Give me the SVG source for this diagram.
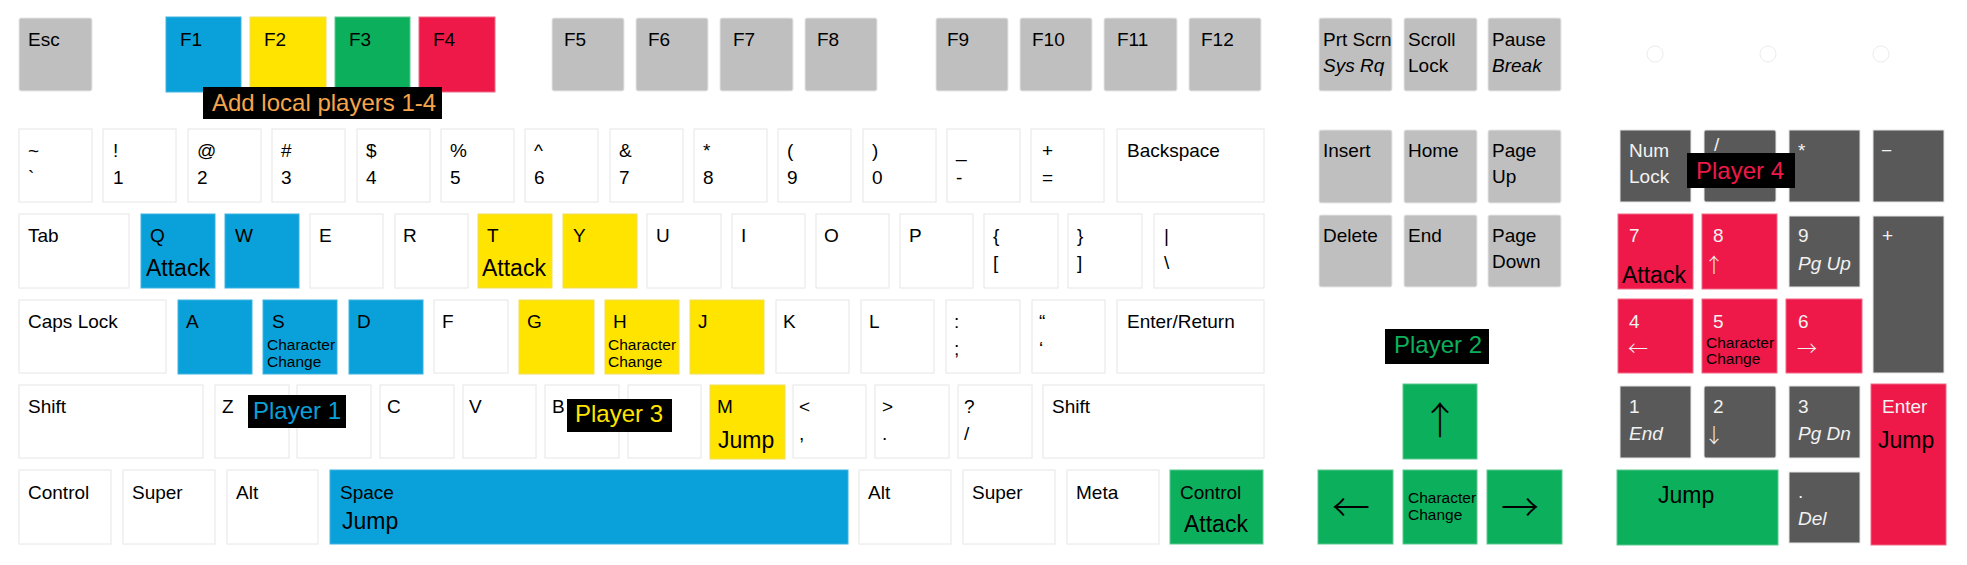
<svg xmlns="http://www.w3.org/2000/svg" width="1967" height="565" viewBox="0 0 1967 565">
<style>
rect.k{stroke:#e6e6e6;stroke-width:1}
.w{fill:#ffffff}
.g{fill:#bfbfbf}
.d{fill:#595959}
.b{fill:#0aa0d9;stroke:#3fb3e0!important}
.y{fill:#ffe400;stroke:#f0de5a!important}
.gr{fill:#0cb05c;stroke:#5cc78f!important}
.r{fill:#ee1948;stroke:#f06a86!important}
text{font-family:"Liberation Sans",Arial,sans-serif;font-size:19px;fill:#000}
text.lt{fill:#f2f2f2}
text.big{font-size:23px}
text.sm{font-size:15.5px}
text.it{font-style:italic}
text.arr{font-family:"Noto Sans CJK JP","Noto Sans CJK SC",sans-serif;font-size:38px;font-weight:300}
text.sarr{font-family:"Noto Sans CJK JP","Noto Sans CJK SC",sans-serif;font-size:20px;font-weight:300}
text.lbl{font-size:24px}
rect.tag{fill:#000}
circle.led{fill:none;stroke:#ececec;stroke-width:1}
</style>
<rect x="0" y="0" width="1967" height="565" fill="#ffffff"/>
<g id="connectors"/>

<!-- Function row -->
<g id="key-esc"><rect class="k g" x="19" y="18" width="73" height="73" rx="2"/><text x="28" y="46">Esc</text></g>
<g id="key-f1"><rect class="k b" x="166" y="17" width="75" height="75"/><text x="180" y="46">F1</text></g>
<g id="key-f2"><rect class="k y" x="250" y="17" width="76" height="75"/><text x="264" y="46">F2</text></g>
<g id="key-f3"><rect class="k gr" x="335" y="17" width="75" height="75"/><text x="349" y="46">F3</text></g>
<g id="key-f4"><rect class="k r" x="419" y="17" width="76" height="75"/><text x="433" y="46">F4</text></g>
<g id="key-f5"><rect class="k g" x="552" y="18" width="72" height="73" rx="2"/><text x="564" y="46">F5</text></g>
<g id="key-f6"><rect class="k g" x="636" y="18" width="72" height="73" rx="2"/><text x="648" y="46">F6</text></g>
<g id="key-f7"><rect class="k g" x="720" y="18" width="73" height="73" rx="2"/><text x="733" y="46">F7</text></g>
<g id="key-f8"><rect class="k g" x="805" y="18" width="72" height="73" rx="2"/><text x="817" y="46">F8</text></g>
<g id="key-f9"><rect class="k g" x="936" y="18" width="72" height="73" rx="2"/><text x="947" y="46">F9</text></g>
<g id="key-f10"><rect class="k g" x="1020" y="18" width="72" height="73" rx="2"/><text x="1032" y="46">F10</text></g>
<g id="key-f11"><rect class="k g" x="1104" y="18" width="73" height="73" rx="2"/><text x="1117" y="46">F11</text></g>
<g id="key-f12"><rect class="k g" x="1189" y="18" width="72" height="73" rx="2"/><text x="1201" y="46">F12</text></g>
<g id="key-prtscrn"><rect class="k g" x="1319" y="18" width="73" height="73" rx="2"/><text x="1323" y="46">Prt Scrn</text><text class="it" x="1323" y="72">Sys Rq</text></g>
<g id="key-scrolllock"><rect class="k g" x="1404" y="18" width="73" height="73" rx="2"/><text x="1408" y="46">Scroll</text><text x="1408" y="72">Lock</text></g>
<g id="key-pause"><rect class="k g" x="1488" y="18" width="73" height="73" rx="2"/><text x="1492" y="46">Pause</text><text class="it" x="1492" y="72">Break</text></g>
<g id="leds"><circle class="led" cx="1655" cy="54" r="8"/><circle class="led" cx="1768" cy="54" r="8"/><circle class="led" cx="1881" cy="54" r="8"/></g>

<!-- Number row -->
<g id="key-tilde"><rect class="k w" x="19" y="129" width="73" height="73"/><text x="28" y="157">~</text><text x="28" y="184">`</text></g>
<g id="key-1"><rect class="k w" x="103" y="129" width="73" height="73"/><text x="113" y="157">!</text><text x="113" y="184">1</text></g>
<g id="key-2"><rect class="k w" x="188" y="129" width="73" height="73"/><text x="197" y="157">@</text><text x="197" y="184">2</text></g>
<g id="key-3"><rect class="k w" x="272" y="129" width="73" height="73"/><text x="281" y="157">#</text><text x="281" y="184">3</text></g>
<g id="key-4"><rect class="k w" x="357" y="129" width="73" height="73"/><text x="366" y="157">$</text><text x="366" y="184">4</text></g>
<g id="key-5"><rect class="k w" x="441" y="129" width="73" height="73"/><text x="450" y="157">%</text><text x="450" y="184">5</text></g>
<g id="key-6"><rect class="k w" x="525" y="129" width="73" height="73"/><text x="534" y="157">^</text><text x="534" y="184">6</text></g>
<g id="key-7"><rect class="k w" x="610" y="129" width="73" height="73"/><text x="619" y="157">&amp;</text><text x="619" y="184">7</text></g>
<g id="key-8"><rect class="k w" x="694" y="129" width="73" height="73"/><text x="703" y="157">*</text><text x="703" y="184">8</text></g>
<g id="key-9"><rect class="k w" x="778" y="129" width="73" height="73"/><text x="787" y="157">(</text><text x="787" y="184">9</text></g>
<g id="key-0"><rect class="k w" x="863" y="129" width="73" height="73"/><text x="872" y="157">)</text><text x="872" y="184">0</text></g>
<g id="key-minus"><rect class="k w" x="947" y="129" width="73" height="73"/><text x="956" y="157">_</text><text x="956" y="184">-</text></g>
<g id="key-equals"><rect class="k w" x="1031" y="129" width="73" height="73"/><text x="1042" y="157">+</text><text x="1042" y="184">=</text></g>
<g id="key-backspace"><rect class="k w" x="1117" y="129" width="147" height="73"/><text x="1127" y="157">Backspace</text></g>
<g id="key-insert"><rect class="k g" x="1319" y="130" width="73" height="73" rx="2"/><text x="1323" y="157">Insert</text></g>
<g id="key-home"><rect class="k g" x="1404" y="130" width="73" height="73" rx="2"/><text x="1408" y="157">Home</text></g>
<g id="key-pageup"><rect class="k g" x="1488" y="130" width="73" height="73" rx="2"/><text x="1492" y="157">Page</text><text x="1492" y="183">Up</text></g>
<g id="key-numlock"><rect class="k d" x="1620" y="130" width="71" height="72"/><text class="lt" x="1629" y="157">Num</text><text class="lt" x="1629" y="183">Lock</text></g>
<g id="key-numdiv"><rect class="k d" x="1704" y="130" width="72" height="72" rx="2"/><text class="lt" x="1714" y="151">/</text></g>
<g id="key-nummul"><rect class="k d" x="1789" y="130" width="71" height="72"/><text class="lt" x="1798" y="157">*</text></g>
<g id="key-numsub"><rect class="k d" x="1873" y="130" width="71" height="72"/><text class="lt" x="1881" y="157">−</text></g>

<!-- QWERTY row -->
<g id="key-tab"><rect class="k w" x="19" y="214" width="110" height="74"/><text x="28" y="242">Tab</text></g>
<g id="key-q"><rect class="k b" x="141" y="214" width="74" height="74"/><text x="150" y="242">Q</text><text class="big" x="146" y="276">Attack</text></g>
<g id="key-w"><rect class="k b" x="225" y="214" width="74" height="74"/><text x="235" y="242">W</text></g>
<g id="key-e"><rect class="k w" x="310" y="214" width="73" height="74"/><text x="319" y="242">E</text></g>
<g id="key-r"><rect class="k w" x="395" y="214" width="73" height="74"/><text x="403" y="242">R</text></g>
<g id="key-t"><rect class="k y" x="478" y="214" width="74" height="74"/><text x="487" y="242">T</text><text class="big" x="482" y="276">Attack</text></g>
<g id="key-y"><rect class="k y" x="563" y="214" width="74" height="74"/><text x="573" y="242">Y</text></g>
<g id="key-u"><rect class="k w" x="647" y="214" width="74" height="74"/><text x="656" y="242">U</text></g>
<g id="key-i"><rect class="k w" x="732" y="214" width="73" height="74"/><text x="741" y="242">I</text></g>
<g id="key-o"><rect class="k w" x="816" y="214" width="73" height="74"/><text x="824" y="242">O</text></g>
<g id="key-p"><rect class="k w" x="900" y="214" width="73" height="74"/><text x="909" y="242">P</text></g>
<g id="key-lbracket"><rect class="k w" x="984" y="214" width="74" height="74"/><text x="993" y="242">{</text><text x="993" y="269">[</text></g>
<g id="key-rbracket"><rect class="k w" x="1068" y="214" width="74" height="74"/><text x="1077" y="242">}</text><text x="1077" y="269">]</text></g>
<g id="key-backslash"><rect class="k w" x="1154" y="214" width="110" height="74"/><text x="1164" y="242">|</text><text x="1164" y="269">\</text></g>
<g id="key-delete"><rect class="k g" x="1319" y="215" width="73" height="72" rx="2"/><text x="1323" y="242">Delete</text></g>
<g id="key-end"><rect class="k g" x="1404" y="215" width="73" height="72" rx="2"/><text x="1408" y="242">End</text></g>
<g id="key-pagedown"><rect class="k g" x="1488" y="215" width="73" height="72" rx="2"/><text x="1492" y="242">Page</text><text x="1492" y="268">Down</text></g>
<g id="key-num7"><rect class="k r" x="1618" y="214" width="75" height="75"/><text class="lt" x="1629" y="242">7</text><text class="big" x="1622" y="283">Attack</text></g>
<g id="key-num8"><rect class="k r" x="1702" y="214" width="75" height="75"/><text class="lt" x="1713" y="242">8</text><text class="lt sarr" x="1704" y="273">↑</text></g>
<g id="key-num9"><rect class="k d" x="1789" y="216" width="71" height="71"/><text class="lt" x="1798" y="242">9</text><text class="lt it" x="1798" y="270">Pg Up</text></g>
<g id="key-numadd"><rect class="k d" x="1873" y="216" width="71" height="157"/><text class="lt" x="1882" y="242">+</text></g>

<!-- ASDF row -->
<g id="key-capslock"><rect class="k w" x="19" y="300" width="147" height="73"/><text x="28" y="328">Caps Lock</text></g>
<g id="key-a"><rect class="k b" x="178" y="300" width="74" height="74"/><text x="186" y="328">A</text></g>
<g id="key-s"><rect class="k b" x="263" y="300" width="74" height="74"/><text x="272" y="328">S</text><text class="sm" x="267" y="350">Character</text><text class="sm" x="267" y="367">Change</text></g>
<g id="key-d"><rect class="k b" x="349" y="300" width="74" height="74"/><text x="357" y="328">D</text></g>
<g id="key-f"><rect class="k w" x="434" y="300" width="74" height="73"/><text x="442" y="328">F</text></g>
<g id="key-g"><rect class="k y" x="519" y="300" width="75" height="74"/><text x="527" y="328">G</text></g>
<g id="key-h"><rect class="k y" x="605" y="300" width="74" height="74"/><text x="613" y="328">H</text><text class="sm" x="608" y="350">Character</text><text class="sm" x="608" y="367">Change</text></g>
<g id="key-j"><rect class="k y" x="690" y="300" width="74" height="74"/><text x="698" y="328">J</text></g>
<g id="key-k"><rect class="k w" x="776" y="300" width="73" height="73"/><text x="783" y="328">K</text></g>
<g id="key-l"><rect class="k w" x="861" y="300" width="73" height="73"/><text x="869" y="328">L</text></g>
<g id="key-semicolon"><rect class="k w" x="946" y="300" width="74" height="73"/><text x="954" y="328">:</text><text x="954" y="355">;</text></g>
<g id="key-quote"><rect class="k w" x="1032" y="300" width="73" height="73"/><text x="1039" y="328">“</text><text x="1039" y="355">‘</text></g>
<g id="key-enter"><rect class="k w" x="1117" y="300" width="147" height="73"/><text x="1127" y="328">Enter/Return</text></g>
<g id="key-num4"><rect class="k r" x="1618" y="299" width="75" height="74"/><text class="lt" x="1629" y="328">4</text><text class="lt sarr" x="1628" y="356">←</text></g>
<g id="key-num5"><rect class="k r" x="1702" y="299" width="75" height="74"/><text class="lt" x="1713" y="328">5</text><text class="sm" x="1706" y="348">Character</text><text class="sm" x="1706" y="364">Change</text></g>
<g id="key-num6"><rect class="k r" x="1786" y="299" width="76" height="74"/><text class="lt" x="1798" y="328">6</text><text class="lt sarr" x="1797" y="356">→</text></g>

<!-- ZXCV row -->
<g id="key-lshift"><rect class="k w" x="19" y="385" width="184" height="73"/><text x="28" y="413">Shift</text></g>
<g id="key-z"><rect class="k w" x="215" y="385" width="74" height="73"/><text x="222" y="413">Z</text></g>
<g id="key-x"><rect class="k w" x="297" y="385" width="74" height="73"/></g>
<g id="key-c"><rect class="k w" x="380" y="385" width="74" height="73"/><text x="387" y="413">C</text></g>
<g id="key-v"><rect class="k w" x="463" y="385" width="73" height="73"/><text x="469" y="413">V</text></g>
<g id="key-b"><rect class="k w" x="545" y="385" width="74" height="73"/><text x="552" y="413">B</text></g>
<g id="key-n"><rect class="k w" x="628" y="385" width="73" height="73"/></g>
<g id="key-m"><rect class="k y" x="710" y="385" width="75" height="74"/><text x="717" y="413">M</text><text class="big" x="718" y="448">Jump</text></g>
<g id="key-comma"><rect class="k w" x="793" y="385" width="73" height="73"/><text x="799" y="413">&lt;</text><text x="799" y="440">,</text></g>
<g id="key-period"><rect class="k w" x="875" y="385" width="74" height="73"/><text x="882" y="413">&gt;</text><text x="882" y="440">.</text></g>
<g id="key-slash"><rect class="k w" x="958" y="385" width="74" height="73"/><text x="964" y="413">?</text><text x="964" y="440">/</text></g>
<g id="key-rshift"><rect class="k w" x="1043" y="385" width="221" height="73"/><text x="1052" y="413">Shift</text></g>
<g id="key-up"><rect class="k gr" x="1403" y="384" width="74" height="75"/><text class="arr" x="1440" y="434" text-anchor="middle">↑</text></g>
<g id="key-num1"><rect class="k d" x="1620" y="386" width="71" height="72"/><text class="lt" x="1629" y="413">1</text><text class="lt it" x="1629" y="440">End</text></g>
<g id="key-num2"><rect class="k d" x="1704" y="386" width="72" height="72" rx="2"/><text class="lt" x="1713" y="413">2</text><text class="lt sarr" x="1704" y="443">↓</text></g>
<g id="key-num3"><rect class="k d" x="1789" y="386" width="71" height="72"/><text class="lt" x="1798" y="413">3</text><text class="lt it" x="1798" y="440">Pg Dn</text></g>
<g id="key-numenter"><rect class="k r" x="1871" y="384" width="75" height="161"/><text class="lt" x="1882" y="413">Enter</text><text class="big" x="1878" y="448">Jump</text></g>

<!-- Bottom row -->
<g id="key-lcontrol"><rect class="k w" x="19" y="470" width="92" height="74"/><text x="28" y="499">Control</text></g>
<g id="key-lsuper"><rect class="k w" x="123" y="470" width="92" height="74"/><text x="132" y="499">Super</text></g>
<g id="key-lalt"><rect class="k w" x="227" y="470" width="91" height="74"/><text x="236" y="499">Alt</text></g>
<g id="key-space"><rect class="k b" x="330" y="470" width="518" height="74"/><text x="340" y="499">Space</text><text class="big" x="342" y="529">Jump</text></g>
<g id="key-ralt"><rect class="k w" x="859" y="470" width="92" height="74"/><text x="868" y="499">Alt</text></g>
<g id="key-rsuper"><rect class="k w" x="963" y="470" width="92" height="74"/><text x="972" y="499">Super</text></g>
<g id="key-meta"><rect class="k w" x="1067" y="470" width="92" height="74"/><text x="1076" y="499">Meta</text></g>
<g id="key-rcontrol"><rect class="k gr" x="1170" y="470" width="93" height="74"/><text x="1180" y="499">Control</text><text class="big" x="1184" y="532">Attack</text></g>
<g id="key-left"><rect class="k gr" x="1318" y="470" width="75" height="74"/><text class="arr" x="1351" y="521" text-anchor="middle">←</text></g>
<g id="key-down"><rect class="k gr" x="1403" y="470" width="74" height="74"/><text class="sm" x="1408" y="503">Character</text><text class="sm" x="1408" y="520">Change</text></g>
<g id="key-right"><rect class="k gr" x="1487" y="470" width="75" height="74"/><text class="arr" x="1520" y="521" text-anchor="middle">→</text></g>
<g id="key-num0"><rect class="k gr" x="1617" y="470" width="161" height="75"/><text class="big" x="1658" y="503">Jump</text></g>
<g id="key-numdot"><rect class="k d" x="1789" y="472" width="71" height="71"/><text class="lt" x="1798" y="498">.</text><text class="lt it" x="1798" y="525">Del</text></g>

<!-- Player tags -->
<g id="tag-add"><rect class="tag" x="203" y="87" width="239" height="32"/><text class="lbl" x="212" y="111" style="fill:#f6a54c">Add local players 1-4</text></g>
<g id="tag-player1"><rect class="tag" x="248" y="395" width="98" height="33"/><text class="lbl" x="253" y="419" style="fill:#0aa0d9">Player 1</text></g>
<g id="tag-player2"><rect class="tag" x="1385" y="329" width="104" height="35"/><text class="lbl" x="1394" y="353" style="fill:#0cb05c">Player 2</text></g>
<g id="tag-player3"><rect class="tag" x="567" y="399" width="105" height="33"/><text class="lbl" x="575" y="422" style="fill:#ffe400">Player 3</text></g>
<g id="tag-player4"><rect class="tag" x="1687" y="153" width="108" height="35"/><text class="lbl" x="1696" y="179" style="fill:#ee1948">Player 4</text></g>
</svg>
